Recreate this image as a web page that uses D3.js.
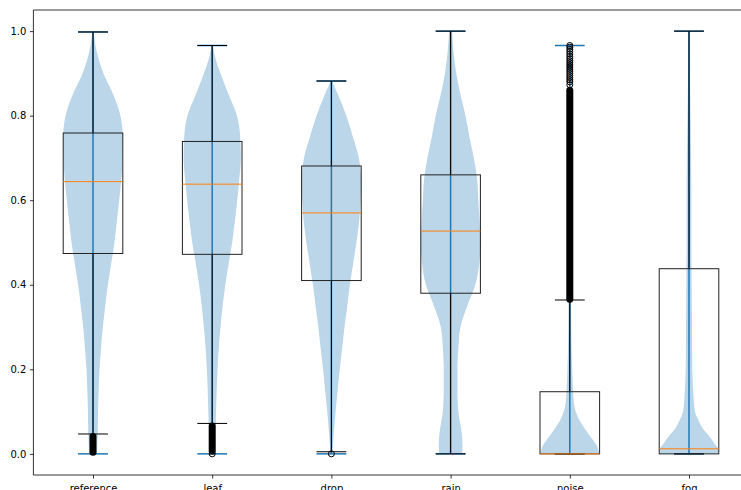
<!DOCTYPE html>
<html><head><meta charset="utf-8">
<script src="https://cdn.jsdelivr.net/npm/d3@7"></script>
<style>body{margin:0;background:#fff}svg{display:block;font-family:"DejaVu Sans",sans-serif}</style>
</head><body><svg id="c" width="741" height="490"></svg>
<script>
const categories = ["reference","leaf","drop","rain","noise","fog"];
const yTicks = [0.0,0.2,0.4,0.6,0.8,1.0];
const dataMin = [0,0,0,0,0,0];
const dataMax = [0.998,0.966,0.882,1.0,0.966,1.0];
const q1 = [0.474,0.472,0.410,0.380,0,0];
const medians = [0.644,0.638,0.570,0.527,0,0.012];
const q3 = [0.759,0.739,0.681,0.660,0.147,0.438];
const whiskerLow = [0.047,0.072,0.005,0,0,0];
const whiskerHigh = [0.998,0.966,0.882,1.0,0.364,1.0];
// dense runs of outliers [low, high] per category (null = none)
const outlierRuns = [[0.004,0.041],[0.006,0.066],null,null,[0.366,0.86],null];
// individual outliers per category
const outlierPoints = [[],[0.0],[0.0],[],[0.873,0.88,0.885,0.89,0.895,0.9,0.905,0.91,0.915,0.92,0.925,0.93,0.935,0.94,0.946,0.952,0.957,0.962,0.966],[]];
// violin density profiles: [value, relative half-width]
const violinReference = [[0,0.13],[0.05,0.16],[0.1,0.17],[0.15,0.19],[0.2,0.22],[0.25,0.27],[0.3,0.33],[0.35,0.41],[0.4,0.5],[0.45,0.61],[0.5,0.72],[0.55,0.8],[0.6,0.88],[0.65,0.95],[0.7,0.99],[0.75,1.0],[0.8,0.92],[0.85,0.68],[0.9,0.35],[0.95,0.13],[0.998,0.02]];
const violinLeaf = [[0,0.1],[0.05,0.11],[0.1,0.13],[0.15,0.15],[0.2,0.18],[0.25,0.22],[0.3,0.28],[0.35,0.35],[0.4,0.44],[0.45,0.55],[0.5,0.67],[0.55,0.76],[0.6,0.84],[0.65,0.91],[0.7,0.96],[0.75,0.94],[0.8,0.83],[0.85,0.55],[0.9,0.28],[0.93,0.13],[0.966,0.02]];
const violinDrop = [[0,0.03],[0.05,0.08],[0.1,0.14],[0.15,0.21],[0.2,0.28],[0.25,0.36],[0.3,0.44],[0.35,0.53],[0.4,0.62],[0.45,0.73],[0.5,0.84],[0.55,0.93],[0.6,0.98],[0.65,1.0],[0.7,0.92],[0.75,0.72],[0.8,0.5],[0.85,0.22],[0.882,0.02]];
const violinRain = [[0,0.38],[0.02,0.4],[0.05,0.37],[0.1,0.26],[0.15,0.23],[0.2,0.23],[0.25,0.26],[0.3,0.33],[0.35,0.56],[0.4,0.83],[0.45,0.96],[0.5,1.0],[0.55,0.97],[0.6,0.93],[0.65,0.89],[0.7,0.78],[0.75,0.63],[0.8,0.5],[0.85,0.33],[0.9,0.19],[0.95,0.1],[1.0,0.05]];
const violinNoise = [[0,1.0],[0.02,0.9],[0.04,0.7],[0.06,0.5],[0.08,0.32],[0.1,0.2],[0.12,0.14],[0.15,0.11],[0.2,0.08],[0.25,0.06],[0.3,0.05],[0.4,0.04],[0.6,0.03],[0.8,0.025],[0.966,0.01]];
const violinFog = [[0,0.95],[0.01,1.0],[0.02,0.9],[0.04,0.7],[0.06,0.46],[0.08,0.31],[0.1,0.2],[0.15,0.14],[0.2,0.11],[0.3,0.1],[0.4,0.09],[0.5,0.08],[0.6,0.08],[0.7,0.07],[0.8,0.05],[0.9,0.03],[1.0,0.01]];
const violins = [violinReference,violinLeaf,violinDrop,violinRain,violinNoise,violinFog];

const svg = d3.select("#c");
const mLeft = 33.4, mTop = 10, mBottom = 475, mRight = 748.6;
const x = d3.scaleLinear().domain([0.5, 6.5]).range([mLeft, mRight]);
const y = d3.scaleLinear().domain([-0.05, 1.05]).range([mBottom, mTop]);
const step = x(2) - x(1);
const C0 = "#1f77b4";

// violins
const area = d3.area().curve(d3.curveMonotoneY);
categories.forEach((c, i) => {
  const cx = x(i + 1);
  area.y(d => y(d[0])).x0(d => cx - d[1] * 0.25 * step).x1(d => cx + d[1] * 0.25 * step);
  svg.append("path").attr("d", area(violins[i])).attr("fill", C0).attr("fill-opacity", 0.3);
  svg.append("line").attr("x1", cx).attr("x2", cx).attr("y1", y(dataMin[i])).attr("y2", y(dataMax[i])).attr("stroke", C0).attr("stroke-width", 1.5);
  [dataMin[i], dataMax[i]].forEach(v => {
    svg.append("line").attr("x1", cx - 0.125 * step).attr("x2", cx + 0.125 * step).attr("y1", y(v)).attr("y2", y(v)).attr("stroke", C0).attr("stroke-width", 1.5);
  });
});

// boxplots
categories.forEach((c, i) => {
  const cx = x(i + 1);
  const g = svg.append("g");
  g.append("line").attr("x1", cx).attr("x2", cx).attr("y1", y(q3[i])).attr("y2", y(whiskerHigh[i])).attr("stroke", "#000").attr("stroke-width", 1);
  g.append("line").attr("x1", cx).attr("x2", cx).attr("y1", y(q1[i])).attr("y2", y(whiskerLow[i])).attr("stroke", "#000").attr("stroke-width", 1);
  [whiskerLow[i], whiskerHigh[i]].forEach(v => {
    g.append("line").attr("x1", cx - 0.125 * step).attr("x2", cx + 0.125 * step).attr("y1", y(v)).attr("y2", y(v)).attr("stroke", "#000").attr("stroke-width", 1);
  });
  g.append("rect").attr("x", cx - 0.25 * step).attr("width", 0.5 * step).attr("y", y(q3[i])).attr("height", Math.max(0, y(q1[i]) - y(q3[i])))
    .attr("fill", "none").attr("stroke", "#222").attr("stroke-width", 1);
  g.append("line").attr("x1", cx - 0.25 * step).attr("x2", cx + 0.25 * step).attr("y1", y(medians[i])).attr("y2", y(medians[i])).attr("stroke", "#ff7f0e").attr("stroke-width", 1);
  if (outlierRuns[i]) {
    g.append("line").attr("x1", cx).attr("x2", cx).attr("y1", y(outlierRuns[i][0])).attr("y2", y(outlierRuns[i][1]))
      .attr("stroke", "#000").attr("stroke-width", 7).attr("stroke-linecap", "round");
  }
  outlierPoints[i].forEach(v => {
    g.append("circle").attr("cx", cx).attr("cy", y(v)).attr("r", 3).attr("fill", "none").attr("stroke", "#000").attr("stroke-width", 1);
  });
});

// axes
const yAxis = d3.axisLeft(y).tickValues(yTicks).tickFormat(d3.format(".1f")).tickSize(3.5).tickPadding(3.5);
const gy = svg.append("g").attr("transform", `translate(${mLeft},0)`).call(yAxis);
const xAxis = d3.axisBottom(x).tickValues(d3.range(1, categories.length + 1)).tickFormat(d => categories[d - 1]).tickSize(3.5).tickPadding(3.5);
const gx = svg.append("g").attr("transform", `translate(0,${mBottom})`).call(xAxis);
[gx, gy].forEach(g => {
  g.select(".domain").remove();
  g.selectAll("text").attr("font-size", 10).attr("font-family", "DejaVu Sans, sans-serif").attr("fill", "#000");
  g.selectAll(".tick line").attr("stroke", "#000").attr("stroke-width", 0.8);
});
gx.selectAll("text").attr("dy", "1.0em");
// spines
svg.append("line").attr("x1", mLeft).attr("x2", mLeft).attr("y1", mTop).attr("y2", mBottom).attr("stroke", "#000").attr("stroke-width", 0.8);
svg.append("line").attr("x1", mLeft).attr("x2", mRight).attr("y1", mBottom).attr("y2", mBottom).attr("stroke", "#000").attr("stroke-width", 0.8);
svg.append("line").attr("x1", mLeft).attr("x2", mRight).attr("y1", mTop).attr("y2", mTop).attr("stroke", "#000").attr("stroke-width", 0.8);
</script></body></html>
